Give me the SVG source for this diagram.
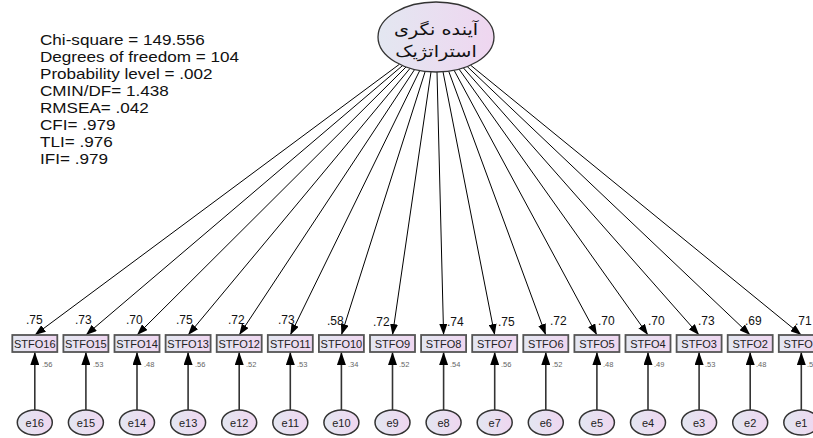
<svg xmlns="http://www.w3.org/2000/svg" width="813" height="438" viewBox="0 0 813 438">
<defs>
<linearGradient id="gf" x1="0" y1="0" x2="1" y2="0">
<stop offset="0" stop-color="#e3e7f1"/>
<stop offset="1" stop-color="#efd6f0"/>
</linearGradient>
<marker id="ah" markerUnits="userSpaceOnUse" markerWidth="11" markerHeight="8" refX="11" refY="4" orient="auto">
<path d="M0,0 L11,4 L0,8 z" fill="#000"/>
</marker>
<marker id="ae" markerUnits="userSpaceOnUse" markerWidth="13" markerHeight="9" refX="13" refY="4.5" orient="auto">
<path d="M0,0 L13,4.5 L0,9 z" fill="#000"/>
</marker>
</defs>
<style>
.box{fill:url(#gf);stroke:#555;stroke-width:1.8}
.err{fill:url(#gf);stroke:#333;stroke-width:1.5}
.lat{fill:url(#gf);stroke:#333;stroke-width:1.3}
.fan{stroke:#000;stroke-width:1;fill:none;marker-end:url(#ah)}
.el{stroke:#333;stroke-width:1.6;fill:none;marker-end:url(#ae)}
.bt{font-family:"Liberation Sans",Arial,sans-serif;font-size:11px;fill:#222;text-anchor:middle}
.et{font-family:"Liberation Sans",Arial,sans-serif;font-size:11px;fill:#222;text-anchor:middle}
.ld{font-family:"Liberation Sans",Arial,sans-serif;font-size:12px;fill:#111}
.r2{font-family:"Liberation Sans",Arial,sans-serif;font-size:7.5px;fill:#666}
.st{font-family:"Liberation Sans",Arial,sans-serif;font-size:15px;fill:#111}
.ar{font-family:"DejaVu Sans","Noto Sans",sans-serif;font-size:16px;fill:#111;text-anchor:middle}
</style>

<g id="fit-stats" transform="translate(40,0) scale(1.14,1)">
<text class="st" x="0" y="45">Chi-square = 149.556</text>
<text class="st" x="0" y="62">Degrees of freedom = 104</text>
<text class="st" x="0" y="79">Probability level = .002</text>
<text class="st" x="0" y="96">CMIN/DF= 1.438</text>
<text class="st" x="0" y="113">RMSEA= .042</text>
<text class="st" x="0" y="130">CFI= .979</text>
<text class="st" x="0" y="147">TLI= .976</text>
<text class="st" x="0" y="164">IFI= .979</text>
</g>

<g id="connectors">
<line class="fan" x1="399.5" y1="64.2" x2="34.8" y2="335"/>
<line class="fan" x1="402.5" y1="65.6" x2="85.9" y2="335"/>
<line class="fan" x1="406" y1="67" x2="137" y2="335"/>
<line class="fan" x1="410.1" y1="68.3" x2="188.1" y2="335"/>
<line class="fan" x1="414.6" y1="69.5" x2="239.2" y2="335"/>
<line class="fan" x1="419.7" y1="70.6" x2="290.3" y2="335"/>
<line class="fan" x1="425.2" y1="71.4" x2="341.4" y2="335"/>
<line class="fan" x1="431" y1="71.9" x2="392.5" y2="335"/>
<line class="fan" x1="437" y1="72" x2="443.6" y2="335"/>
<line class="fan" x1="443" y1="71.7" x2="494.7" y2="335"/>
<line class="fan" x1="448.7" y1="71.2" x2="545.8" y2="335"/>
<line class="fan" x1="454.1" y1="70.3" x2="596.9" y2="335"/>
<line class="fan" x1="459" y1="69.1" x2="648" y2="335"/>
<line class="fan" x1="463.4" y1="67.9" x2="699.1" y2="335"/>
<line class="fan" x1="467.2" y1="66.5" x2="750.2" y2="335"/>
<line class="fan" x1="470.5" y1="65.1" x2="801.3" y2="335"/>

<line class="el" x1="34.8" y1="410" x2="34.8" y2="352"/>
<line class="el" x1="85.9" y1="410" x2="85.9" y2="352"/>
<line class="el" x1="137" y1="410" x2="137" y2="352"/>
<line class="el" x1="188.1" y1="410" x2="188.1" y2="352"/>
<line class="el" x1="239.2" y1="410" x2="239.2" y2="352"/>
<line class="el" x1="290.3" y1="410" x2="290.3" y2="352"/>
<line class="el" x1="341.4" y1="410" x2="341.4" y2="352"/>
<line class="el" x1="392.5" y1="410" x2="392.5" y2="352"/>
<line class="el" x1="443.6" y1="410" x2="443.6" y2="352"/>
<line class="el" x1="494.7" y1="410" x2="494.7" y2="352"/>
<line class="el" x1="545.8" y1="410" x2="545.8" y2="352"/>
<line class="el" x1="596.9" y1="410" x2="596.9" y2="352"/>
<line class="el" x1="648" y1="410" x2="648" y2="352"/>
<line class="el" x1="699.1" y1="410" x2="699.1" y2="352"/>
<line class="el" x1="750.2" y1="410" x2="750.2" y2="352"/>
<line class="el" x1="801.3" y1="410" x2="801.3" y2="352"/>

<text class="ld" x="26" y="324">.75</text>
<text class="ld" x="75" y="324">.73</text>
<text class="ld" x="126" y="324">.70</text>
<text class="ld" x="176" y="324">.75</text>
<text class="ld" x="228" y="324">.72</text>
<text class="ld" x="278" y="324">.73</text>
<text class="ld" x="327" y="325">.58</text>
<text class="ld" x="373" y="326">.72</text>
<text class="ld" x="447" y="326">.74</text>
<text class="ld" x="498" y="326">.75</text>
<text class="ld" x="550" y="325">.72</text>
<text class="ld" x="598" y="325">.70</text>
<text class="ld" x="648" y="325">.70</text>
<text class="ld" x="698" y="325">.73</text>
<text class="ld" x="745" y="325">.69</text>
<text class="ld" x="795" y="325">.71</text>
</g>

<g id="latent">
<ellipse class="lat" cx="436" cy="37" rx="58" ry="35"/>
<g transform="translate(436,0) scale(1.2,1)">
<text class="ar" x="0" y="35">آینده نگری</text>
<text class="ar" x="0" y="57">استراتژیک</text>
</g>
</g>

<g id="STFO16"><rect class="box" x="12.3" y="335" width="45" height="17"/><text class="bt" x="34.8" y="347.5">STFO16</text><text class="r2" x="42" y="367">.56</text></g>
<g id="STFO15"><rect class="box" x="63.4" y="335" width="45" height="17"/><text class="bt" x="85.9" y="347.5">STFO15</text><text class="r2" x="93" y="367">.53</text></g>
<g id="STFO14"><rect class="box" x="114.5" y="335" width="45" height="17"/><text class="bt" x="137" y="347.5">STFO14</text><text class="r2" x="144" y="367">.48</text></g>
<g id="STFO13"><rect class="box" x="165.6" y="335" width="45" height="17"/><text class="bt" x="188.1" y="347.5">STFO13</text><text class="r2" x="195" y="367">.56</text></g>
<g id="STFO12"><rect class="box" x="216.7" y="335" width="45" height="17"/><text class="bt" x="239.2" y="347.5">STFO12</text><text class="r2" x="246" y="367">.52</text></g>
<g id="STFO11"><rect class="box" x="267.8" y="335" width="45" height="17"/><text class="bt" x="290.3" y="347.5">STFO11</text><text class="r2" x="297" y="367">.53</text></g>
<g id="STFO10"><rect class="box" x="318.9" y="335" width="45" height="17"/><text class="bt" x="341.4" y="347.5">STFO10</text><text class="r2" x="348" y="367">.34</text></g>
<g id="STFO9"><rect class="box" x="370" y="335" width="45" height="17"/><text class="bt" x="392.5" y="347.5">STFO9</text><text class="r2" x="399" y="367">.52</text></g>
<g id="STFO8"><rect class="box" x="421.1" y="335" width="45" height="17"/><text class="bt" x="443.6" y="347.5">STFO8</text><text class="r2" x="450" y="367">.54</text></g>
<g id="STFO7"><rect class="box" x="472.2" y="335" width="45" height="17"/><text class="bt" x="494.7" y="347.5">STFO7</text><text class="r2" x="501" y="367">.56</text></g>
<g id="STFO6"><rect class="box" x="523.3" y="335" width="45" height="17"/><text class="bt" x="545.8" y="347.5">STFO6</text><text class="r2" x="552" y="367">.52</text></g>
<g id="STFO5"><rect class="box" x="574.4" y="335" width="45" height="17"/><text class="bt" x="596.9" y="347.5">STFO5</text><text class="r2" x="603" y="367">.48</text></g>
<g id="STFO4"><rect class="box" x="625.5" y="335" width="45" height="17"/><text class="bt" x="648" y="347.5">STFO4</text><text class="r2" x="654" y="367">.49</text></g>
<g id="STFO3"><rect class="box" x="676.6" y="335" width="45" height="17"/><text class="bt" x="699.1" y="347.5">STFO3</text><text class="r2" x="705" y="367">.53</text></g>
<g id="STFO2"><rect class="box" x="727.7" y="335" width="45" height="17"/><text class="bt" x="750.2" y="347.5">STFO2</text><text class="r2" x="756" y="367">.48</text></g>
<g id="STFO1"><rect class="box" x="778.8" y="335" width="45" height="17"/><text class="bt" x="801.3" y="347.5">STFO1</text><text class="r2" x="807" y="367">.50</text></g>

<g id="e16"><ellipse class="err" cx="34.8" cy="422.5" rx="17.5" ry="12.5"/><text class="et" x="34.8" y="426.5">e16</text></g>
<g id="e15"><ellipse class="err" cx="85.9" cy="422.5" rx="17.5" ry="12.5"/><text class="et" x="85.9" y="426.5">e15</text></g>
<g id="e14"><ellipse class="err" cx="137" cy="422.5" rx="17.5" ry="12.5"/><text class="et" x="137" y="426.5">e14</text></g>
<g id="e13"><ellipse class="err" cx="188.1" cy="422.5" rx="17.5" ry="12.5"/><text class="et" x="188.1" y="426.5">e13</text></g>
<g id="e12"><ellipse class="err" cx="239.2" cy="422.5" rx="17.5" ry="12.5"/><text class="et" x="239.2" y="426.5">e12</text></g>
<g id="e11"><ellipse class="err" cx="290.3" cy="422.5" rx="17.5" ry="12.5"/><text class="et" x="290.3" y="426.5">e11</text></g>
<g id="e10"><ellipse class="err" cx="341.4" cy="422.5" rx="17.5" ry="12.5"/><text class="et" x="341.4" y="426.5">e10</text></g>
<g id="e9"><ellipse class="err" cx="392.5" cy="422.5" rx="17.5" ry="12.5"/><text class="et" x="392.5" y="426.5">e9</text></g>
<g id="e8"><ellipse class="err" cx="443.6" cy="422.5" rx="17.5" ry="12.5"/><text class="et" x="443.6" y="426.5">e8</text></g>
<g id="e7"><ellipse class="err" cx="494.7" cy="422.5" rx="17.5" ry="12.5"/><text class="et" x="494.7" y="426.5">e7</text></g>
<g id="e6"><ellipse class="err" cx="545.8" cy="422.5" rx="17.5" ry="12.5"/><text class="et" x="545.8" y="426.5">e6</text></g>
<g id="e5"><ellipse class="err" cx="596.9" cy="422.5" rx="17.5" ry="12.5"/><text class="et" x="596.9" y="426.5">e5</text></g>
<g id="e4"><ellipse class="err" cx="648" cy="422.5" rx="17.5" ry="12.5"/><text class="et" x="648" y="426.5">e4</text></g>
<g id="e3"><ellipse class="err" cx="699.1" cy="422.5" rx="17.5" ry="12.5"/><text class="et" x="699.1" y="426.5">e3</text></g>
<g id="e2"><ellipse class="err" cx="750.2" cy="422.5" rx="17.5" ry="12.5"/><text class="et" x="750.2" y="426.5">e2</text></g>
<g id="e1"><ellipse class="err" cx="801.3" cy="422.5" rx="17.5" ry="12.5"/><text class="et" x="801.3" y="426.5">e1</text></g>
</svg>
